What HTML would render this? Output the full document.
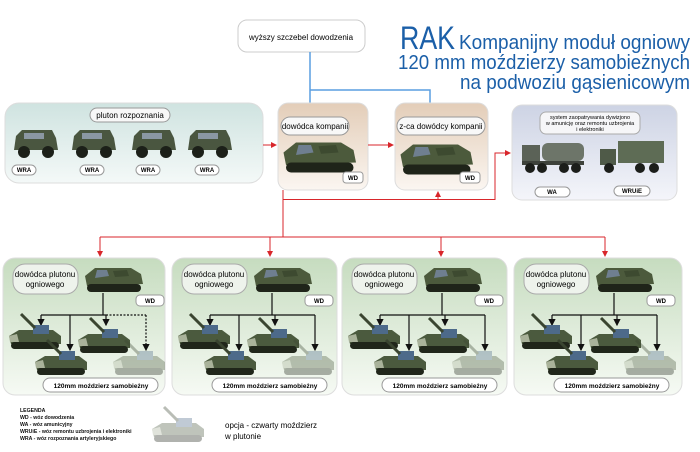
<!DOCTYPE html>
<html><head><meta charset="utf-8"><style>
html,body{margin:0;padding:0;background:#fff;}
svg{display:block;font-family:"Liberation Sans","DejaVu Sans",sans-serif;}
</style></head><body>
<svg width="700" height="452" viewBox="0 0 700 452" xmlns="http://www.w3.org/2000/svg">
<defs>
<linearGradient id="gTeal" x1="0" y1="0" x2="0" y2="1"><stop offset="0" stop-color="#cfe3e0"/><stop offset="1" stop-color="#f4f9f8"/></linearGradient>
<linearGradient id="gBeige" x1="0" y1="0" x2="0" y2="1"><stop offset="0" stop-color="#e3cdb8"/><stop offset="1" stop-color="#fbf6f1"/></linearGradient>
<linearGradient id="gBlue" x1="0" y1="0" x2="0" y2="1"><stop offset="0" stop-color="#cdd3e4"/><stop offset="1" stop-color="#f4f5fa"/></linearGradient>
<linearGradient id="gGreen" x1="0" y1="0" x2="0" y2="1"><stop offset="0" stop-color="#c6dcbf"/><stop offset="1" stop-color="#f6faf4"/></linearGradient>
<g id="apc"><path d="M2,10 L12,2 L48,2 L58,8 L60,18 L4,20 Z" fill="#4c5a3c"/><path d="M14,4 L24,4 L26,10 L12,12Z" fill="#6f7f90"/><path d="M30,5 L44,4 L46,10 L32,11Z" fill="#3d4a30"/><rect x="4" y="18" width="54" height="8" rx="4" fill="#1f2419"/></g>
<g id="mortar"><path d="M0,14 L10,8 L44,8 L52,14 L52,22 L2,22 Z" fill="#4b5a3e"/><rect x="24" y="3" width="16" height="9" fill="#4d6a8a"/><line x1="26" y1="6" x2="12" y2="-8" stroke="#3a4530" stroke-width="3"/><path d="M0,14 L8,12 L10,20 L1,20Z" fill="#a9b29a"/><rect x="2" y="20" width="48" height="7" rx="3.5" fill="#20261a"/></g>
<g id="mortarL" opacity="0.35"><use href="#mortar"/></g>
<g id="jeep"><path d="M4,8 L10,2 L40,2 L44,10 L46,22 L2,22 Z" fill="#4a5640"/><rect x="12" y="5" width="20" height="6" fill="#8b97a3"/><circle cx="12" cy="24" r="6" fill="#1c2019"/><circle cx="36" cy="24" r="6" fill="#1c2019"/></g>
<g id="truck"><rect x="0" y="4" width="18" height="20" fill="#5b6257"/><rect x="20" y="2" width="42" height="18" rx="6" fill="#6d7569"/><rect x="0" y="20" width="62" height="4" fill="#3e423b"/><circle cx="8" cy="27" r="5" fill="#1c1e1a"/><circle cx="20" cy="27" r="5" fill="#1c1e1a"/><circle cx="42" cy="27" r="5" fill="#1c1e1a"/><circle cx="54" cy="27" r="5" fill="#1c1e1a"/></g>
<g id="truck2"><rect x="0" y="8" width="16" height="16" fill="#4f5a48"/><rect x="18" y="0" width="46" height="22" fill="#5e6c55"/><circle cx="9" cy="27" r="5" fill="#1c1e1a"/><circle cx="40" cy="27" r="5" fill="#1c1e1a"/><circle cx="54" cy="27" r="5" fill="#1c1e1a"/></g>
<marker id="ar" markerWidth="6" markerHeight="6" refX="5" refY="3" orient="auto"><path d="M0,0 L6,3 L0,6Z" fill="#d8262b"/></marker>
<marker id="ak" markerWidth="6" markerHeight="6" refX="5" refY="3" orient="auto"><path d="M0,0 L6,3 L0,6Z" fill="#111"/></marker>
</defs>

<!-- title -->
<text x="400" y="49" font-size="32" fill="#1b5fa8" textLength="55" lengthAdjust="spacingAndGlyphs">RAK</text>
<text x="459" y="49" font-size="20" fill="#1b5fa8" textLength="231" lengthAdjust="spacingAndGlyphs">Kompanijny moduł ogniowy</text>
<text x="398" y="69" font-size="20" fill="#1b5fa8" textLength="292" lengthAdjust="spacingAndGlyphs">120 mm moździerzy samobieżnych</text>
<text x="460" y="89" font-size="20" fill="#1b5fa8" textLength="230" lengthAdjust="spacingAndGlyphs">na podwoziu gąsienicowym</text>

<!-- top box -->
<rect x="238" y="20" width="127" height="32" rx="9" fill="#fff" stroke="#ccc"/>
<text x="301" y="40" font-size="8" text-anchor="middle">wyższy szczebel dowodzenia</text>
<path d="M310,52 V103 M310,90 H430 V103" stroke="#5a9ee0" stroke-width="1.5" fill="none"/>

<!-- pluton rozpoznania -->
<rect x="5" y="103" width="258" height="80" rx="14" fill="url(#gTeal)" stroke="#ddd"/>
<rect x="90" y="108" width="80" height="14" rx="7" fill="#f8f8f8" stroke="#999"/>
<text x="130" y="118" font-size="8" text-anchor="middle">pluton rozpoznania</text>
<use href="#jeep" x="12" y="128"/><use href="#jeep" x="70" y="128"/><use href="#jeep" x="130" y="128"/><use href="#jeep" x="186" y="128"/>
<g font-size="6" font-weight="bold" text-anchor="middle">
<rect x="12" y="165" width="24" height="10" rx="5" fill="#fff" stroke="#999"/><text x="24" y="172">WRA</text>
<rect x="80" y="165" width="24" height="10" rx="5" fill="#fff" stroke="#999"/><text x="92" y="172">WRA</text>
<rect x="136" y="165" width="24" height="10" rx="5" fill="#fff" stroke="#999"/><text x="148" y="172">WRA</text>
<rect x="195" y="165" width="24" height="10" rx="5" fill="#fff" stroke="#999"/><text x="207" y="172">WRA</text>
</g>

<!-- dowodca -->
<rect x="278" y="103" width="90" height="87" rx="10" fill="url(#gBeige)" stroke="#ddd"/>
<rect x="281" y="117" width="68" height="18" rx="9" fill="#f8f8f8" stroke="#999"/>
<text x="315" y="129" font-size="8" text-anchor="middle">dowódca kompanii</text>
<use href="#apc" transform="translate(281,140) scale(1.25)"/>
<rect x="343" y="172" width="20" height="11" rx="3" fill="#fff" stroke="#999"/><text x="353" y="180" font-size="6" font-weight="bold" text-anchor="middle">WD</text>
<!-- z-ca -->
<rect x="395" y="103" width="93" height="87" rx="10" fill="url(#gBeige)" stroke="#ddd"/>
<rect x="397" y="117" width="88" height="18" rx="9" fill="#f8f8f8" stroke="#999"/>
<text x="441" y="129" font-size="8" text-anchor="middle">z-ca dowódcy kompanii</text>
<use href="#apc" transform="translate(398,142) scale(1.25)"/>
<rect x="460" y="172" width="20" height="11" rx="3" fill="#fff" stroke="#999"/><text x="470" y="180" font-size="6" font-weight="bold" text-anchor="middle">WD</text>

<!-- system -->
<rect x="512" y="105" width="165" height="95" rx="10" fill="url(#gBlue)" stroke="#ddd"/>
<rect x="540" y="112" width="100" height="22" rx="6" fill="#f6f6f8" stroke="#aaa"/>
<g font-size="5.5" text-anchor="middle"><text x="590" y="119">system zaopatrywania dywizjono</text><text x="590" y="125">w amunicję oraz remontu uzbrojenia</text><text x="590" y="131">i elektroniki</text></g>
<use href="#truck" x="522" y="141"/><use href="#truck2" x="600" y="141"/>
<rect x="535" y="187" width="35" height="10" rx="5" fill="#fff" stroke="#999"/><text x="552" y="194" font-size="6" font-weight="bold" text-anchor="middle">WA</text>
<rect x="614" y="186" width="36" height="10" rx="5" fill="#fff" stroke="#999"/><text x="632" y="193" font-size="6" font-weight="bold" text-anchor="middle">WRUiE</text>

<!-- red connectors -->
<g stroke="#d8262b" stroke-width="1" fill="none">
<path d="M263,145 H276" marker-end="url(#ar)"/>
<path d="M368,145 H393" marker-end="url(#ar)"/>
<path d="M283,190 V237 M283,199.5 H495 V153 H510" marker-end="url(#ar)"/>
<path d="M438,199.5 V192" marker-end="url(#ar)"/>
<path d="M100,237 H605"/>
<path d="M100,237 V256" marker-end="url(#ar)"/>
<path d="M270,237 V256" marker-end="url(#ar)"/>
<path d="M441,237 V256" marker-end="url(#ar)"/>
<path d="M605,237 V256" marker-end="url(#ar)"/>
</g>

<!-- platoons -->
<g transform="translate(3,258)">
<rect x="0" y="0" width="162" height="137" rx="12" fill="url(#gGreen)" stroke="#ddd"/>
<rect x="10" y="6" width="65" height="30" rx="12" fill="#eef3ec" stroke="#aaa"/>
<text x="42" y="19" font-size="8" text-anchor="middle">dowódca plutonu</text><text x="42" y="29" font-size="8" text-anchor="middle">ogniowego</text>
<use href="#apc" x="80" y="8"/>
<rect x="133" y="37" width="28" height="11" rx="4" fill="#fff" stroke="#999"/><text x="147" y="45" font-size="6" font-weight="bold" text-anchor="middle">WD</text>
<g stroke="#111" stroke-width="1.2" fill="none"><path d="M100,35 V57 M38,57 H103"/><path d="M103,57 H143" stroke-dasharray="2,1.5"/><path d="M38,57 V67" marker-end="url(#ak)"/><path d="M67,57 V92" marker-end="url(#ak)"/><path d="M103,57 V67" marker-end="url(#ak)"/><path d="M143,57 V92" stroke-dasharray="2,1.5" marker-end="url(#ak)"/></g>
<use href="#mortar" x="6" y="64"/><use href="#mortar" x="75" y="68"/><use href="#mortar" x="32" y="90"/><use href="#mortarL" x="110" y="90"/>
<rect x="40" y="120" width="115" height="14" rx="7" fill="#fff" stroke="#999"/><text x="98" y="130" font-size="6.5" font-weight="bold" text-anchor="middle">120mm moździerz samobieżny</text>
</g>
<g transform="translate(172,258)">
<rect x="0" y="0" width="165" height="137" rx="12" fill="url(#gGreen)" stroke="#ddd"/>
<rect x="10" y="6" width="65" height="30" rx="12" fill="#eef3ec" stroke="#aaa"/>
<text x="42" y="19" font-size="8" text-anchor="middle">dowódca plutonu</text><text x="42" y="29" font-size="8" text-anchor="middle">ogniowego</text>
<use href="#apc" x="80" y="8"/>
<rect x="133" y="37" width="28" height="11" rx="4" fill="#fff" stroke="#999"/><text x="147" y="45" font-size="6" font-weight="bold" text-anchor="middle">WD</text>
<g stroke="#111" stroke-width="1.2" fill="none"><path d="M100,35 V57 M38,57 H143"/><path d="M38,57 V67" marker-end="url(#ak)"/><path d="M67,57 V92" marker-end="url(#ak)"/><path d="M103,57 V67" marker-end="url(#ak)"/><path d="M143,57 V92" marker-end="url(#ak)"/></g>
<use href="#mortar" x="6" y="64"/><use href="#mortar" x="75" y="68"/><use href="#mortar" x="32" y="90"/><use href="#mortarL" x="110" y="90"/>
<rect x="40" y="120" width="115" height="14" rx="7" fill="#fff" stroke="#999"/><text x="98" y="130" font-size="6.5" font-weight="bold" text-anchor="middle">120mm moździerz samobieżny</text>
</g>
<g transform="translate(342,258)">
<rect x="0" y="0" width="165" height="137" rx="12" fill="url(#gGreen)" stroke="#ddd"/>
<rect x="10" y="6" width="65" height="30" rx="12" fill="#eef3ec" stroke="#aaa"/>
<text x="42" y="19" font-size="8" text-anchor="middle">dowódca plutonu</text><text x="42" y="29" font-size="8" text-anchor="middle">ogniowego</text>
<use href="#apc" x="80" y="8"/>
<rect x="133" y="37" width="28" height="11" rx="4" fill="#fff" stroke="#999"/><text x="147" y="45" font-size="6" font-weight="bold" text-anchor="middle">WD</text>
<g stroke="#111" stroke-width="1.2" fill="none"><path d="M100,35 V57 M38,57 H143"/><path d="M38,57 V67" marker-end="url(#ak)"/><path d="M67,57 V92" marker-end="url(#ak)"/><path d="M103,57 V67" marker-end="url(#ak)"/><path d="M143,57 V92" marker-end="url(#ak)"/></g>
<use href="#mortar" x="6" y="64"/><use href="#mortar" x="75" y="68"/><use href="#mortar" x="32" y="90"/><use href="#mortarL" x="110" y="90"/>
<rect x="40" y="120" width="115" height="14" rx="7" fill="#fff" stroke="#999"/><text x="98" y="130" font-size="6.5" font-weight="bold" text-anchor="middle">120mm moździerz samobieżny</text>
</g>
<g transform="translate(514,258)">
<rect x="0" y="0" width="168" height="137" rx="12" fill="url(#gGreen)" stroke="#ddd"/>
<rect x="10" y="6" width="65" height="30" rx="12" fill="#eef3ec" stroke="#aaa"/>
<text x="42" y="19" font-size="8" text-anchor="middle">dowódca plutonu</text><text x="42" y="29" font-size="8" text-anchor="middle">ogniowego</text>
<use href="#apc" x="80" y="8"/>
<rect x="133" y="37" width="28" height="11" rx="4" fill="#fff" stroke="#999"/><text x="147" y="45" font-size="6" font-weight="bold" text-anchor="middle">WD</text>
<g stroke="#111" stroke-width="1.2" fill="none"><path d="M100,35 V57 M38,57 H143"/><path d="M38,57 V67" marker-end="url(#ak)"/><path d="M67,57 V92" marker-end="url(#ak)"/><path d="M103,57 V67" marker-end="url(#ak)"/><path d="M143,57 V92" marker-end="url(#ak)"/></g>
<use href="#mortar" x="6" y="64"/><use href="#mortar" x="75" y="68"/><use href="#mortar" x="32" y="90"/><use href="#mortarL" x="110" y="90"/>
<rect x="40" y="120" width="115" height="14" rx="7" fill="#fff" stroke="#999"/><text x="98" y="130" font-size="6.5" font-weight="bold" text-anchor="middle">120mm moździerz samobieżny</text>
</g>

<!-- legend -->
<g font-size="5.2" font-weight="bold" fill="#111">
<text x="20" y="412">LEGENDA</text>
<text x="20" y="419">WD - wóz dowodzenia</text>
<text x="20" y="426">WA - wóz amunicyjny</text>
<text x="20" y="433">WRUiE - wóz remontu uzbrojenia i elektroniki</text>
<text x="20" y="440">WRA - wóz rozpoznania artyleryjskiego</text>
</g>
<use href="#mortarL" x="152" y="415"/>
<text x="225" y="428" font-size="8">opcja - czwarty moździerz</text>
<text x="225" y="439" font-size="8">w plutonie</text>
</svg>
</body></html>
